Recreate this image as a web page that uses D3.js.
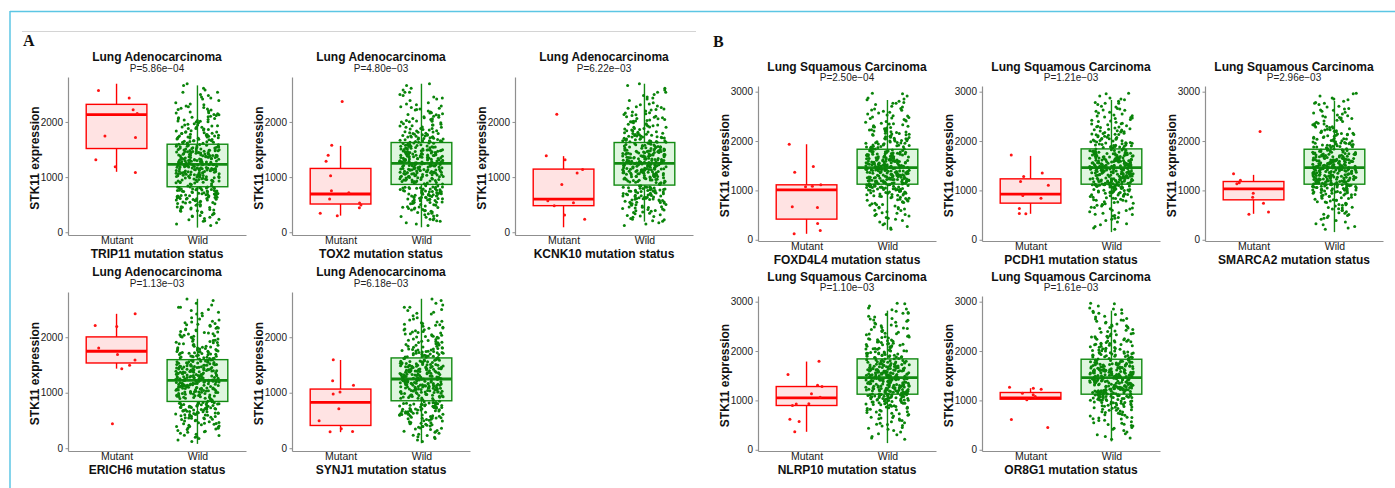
<!DOCTYPE html>
<html>
<head>
<meta charset="utf-8">
<title>STK11 expression by mutation status</title>
<style>
  body { margin: 0; background: #fff; }
  svg { display: block; font-family: "Liberation Sans", Arial, sans-serif; }
</style>
</head>
<body>
<svg id="canvas" width="1395" height="488"></svg>
<script src="https://d3js.org/d3.v7.min.js"></script>
<script>
// ---- data ----
const cancers = ["Lung Adenocarcinoma", "Lung Squamous Carcinoma"];
const panelLetters = ["A", "B"];
const groups = ["Mutant", "Wild"];
const genes = ["TRIP11", "TOX2", "KCNK10", "ERICH6", "SYNJ1", "FOXD4L4", "PCDH1", "SMARCA2", "NLRP10", "OR8G1"];
const pvals = ["5.86e-04", "4.80e-03", "6.22e-03", "1.13e-03", "6.18e-03", "2.50e-04", "1.21e-03", "2.96e-03", "1.10e-03", "1.61e-03"];
const cancerOf = [0, 0, 0, 0, 0, 1, 1, 1, 1, 1];
const yTicks = [[0, 1000, 2000], [0, 1000, 2000, 3000]];

const mutantValues = [
  [2572, 2434, 2223, 2151, 1747, 1717, 1313, 1187, 1084],
  [2373, 1578, 1398, 1289, 1024, 753, 717, 602, 530, 494, 446, 343, 301],
  [2139, 1386, 1313, 1139, 1072, 867, 572, 536, 482, 313, 235],
  [2422, 2211, 2193, 1807, 1687, 1590, 1494, 1434, 440],
  [1596, 1217, 1133, 1012, 976, 711, 494, 349, 301, 295],
  [1935, 1483, 1369, 1113, 1086, 1072, 667, 655, 330, 189, 121],
  [1719, 1355, 1281, 1180, 1106, 897, 843, 634, 533, 526],
  [2192, 1335, 1207, 1153, 1133, 944, 863, 742, 560, 519],
  [1794, 1524, 1308, 1281, 1133, 1065, 931, 925, 897, 620, 573, 364],
  [1268, 1247, 1227, 1146, 1113, 1079, 1011, 614, 452]
];

// [lower whisker, Q1, median, Q3, upper whisker]
const mutantBox = [
  [1096, 1518, 2133, 2319, 2693],
  [301, 512, 693, 1157, 1566],
  [90, 482, 602, 1145, 1380],
  [1434, 1536, 1747, 2006, 2422],
  [289, 410, 825, 1066, 1590],
  [121, 418, 1011, 1113, 1935],
  [526, 742, 924, 1234, 1699],
  [526, 809, 1032, 1180, 1315],
  [364, 897, 1052, 1281, 1787],
  [1011, 1025, 1052, 1160, 1247]
];
const wildBox = [
  [84, 825, 1229, 1596, 2663],
  [90, 867, 1247, 1627, 2693],
  [193, 855, 1247, 1627, 2693],
  [78, 843, 1223, 1596, 2693],
  [90, 855, 1247, 1627, 2693],
  [202, 1126, 1463, 1834, 2832],
  [155, 1126, 1463, 1841, 2832],
  [155, 1126, 1463, 1834, 2812],
  [135, 1126, 1463, 1841, 2818],
  [169, 1126, 1463, 1834, 2818]
];

const wildLUAD = [
  1342, 612, 2105, 977, 1488, 305, 1760, 1102, 845, 1391, 2480, 715, 1187, 1540, 430, 1925, 1033, 1275, 688, 1650,
  2233, 902, 1466, 540, 1812, 1150, 1318, 790, 2016, 1059, 1573, 198, 1699, 866, 1422, 625, 2388, 1211, 1367, 755,
  1254, 478, 1881, 1006, 1509, 820, 2611, 1134, 1298, 359, 1721, 948, 1583, 662, 2149, 1090, 1402, 574, 1967, 1229,
  1445, 747, 1630, 880, 2310, 1173, 1356, 251, 1789, 1017, 1527, 690, 2062, 1118, 1283, 803, 1608, 961, 1476, 402,
  1312, 733, 1746, 1061, 1453, 522, 2197, 1195, 1378, 150, 1862, 919, 1561, 641, 2540, 1079, 1329, 776, 1688, 1240,
  1497, 463, 2003, 1146, 1265, 595, 1733, 988, 1414, 812, 2275, 1108, 1550, 337, 1908, 1039, 1301, 705, 1620, 1167,
  1387, 650, 1795, 930, 1519, 286, 2086, 1222, 1334, 771, 1668, 1013, 1432, 548, 2432, 1157, 1260, 837, 1943, 1071,
  1590, 412, 1710, 955, 1349, 694, 2162, 1125, 1471, 228, 1839, 1048, 1289, 758, 2580, 1199, 1415, 613, 1657, 899,
  1236, 583, 1823, 1027, 1532, 380, 2249, 1181, 1363, 728, 1641, 894, 1459, 505, 2044, 1094, 1306, 672, 1779, 1144,
  1566, 815, 2350, 1007, 1398, 447, 1902, 1213, 1247, 630, 1705, 972, 1510, 272, 2119, 1086, 1327, 786, 2660, 1160,
  1441, 699, 1768, 984, 1293, 543, 1987, 1127, 1374, 120, 2216, 1052, 1594, 740, 1676, 913, 1426, 606, 2498, 1207,
  1270, 798, 1854, 1066, 1502, 391, 2135, 1139, 1339, 667, 1741, 937, 1481, 489, 2025, 1178, 1320, 822, 1615, 1003,
  1358, 560, 1905, 1044, 1493, 710, 2290, 1115, 1250, 318, 1727, 966, 1556, 636, 2074, 1192, 1405, 762, 1659, 1081,
  1463, 452, 1960, 1218, 1286, 680, 2417, 1023, 1537, 209, 1806, 1152, 1395, 749, 1692, 928, 1438, 597, 2180, 1131,
  1273, 808, 1745, 991, 1524, 423, 2095, 1166, 1346, 655, 1870, 1057, 1448, 530, 2540, 1101, 1310, 783, 1632, 874,
  1578, 345, 2011, 1204, 1261, 721, 1790, 1036, 1414, 497, 2226, 1141, 1369, 618, 1713, 946, 1487, 174, 1929, 1084,
  1325, 744, 1836, 1011, 1456, 570, 2166, 1223, 1281, 393, 1683, 958, 1546, 676, 2327, 1120, 1387, 815, 1752, 1069,
  1509, 459, 2058, 1185, 1244, 633, 1883, 986, 1432, 296, 2691, 1097, 1354, 702, 1618, 905, 1470, 544, 1998, 1158,
  1392, 601, 1772, 1041, 1585, 734, 2130, 1133, 1268, 365, 1818, 921, 1477, 518, 2451, 1208, 1300, 767, 1646, 1078,
  1420, 441, 1945, 1170, 1335, 659, 2262, 1015, 1559, 236, 1727, 1112, 1383, 792, 2037, 943, 1496, 583, 1661, 1227
];

const wildLUSC = [
  1488, 934, 2210, 1250, 1702, 512, 2650, 1381, 1555, 1047, 1920, 1180, 1623, 772, 2405, 1318, 1519, 1098, 2050, 1422,
  1760, 305, 2870, 1207, 1645, 988, 2133, 1349, 1590, 860, 1982, 1276, 1731, 655, 2512, 1405, 1474, 1119, 1877, 1158,
  1537, 1008, 2312, 1293, 1681, 437, 2740, 1432, 1499, 905, 2088, 1221, 1779, 1071, 1943, 1366, 1612, 820, 2568, 1147,
  1721, 1033, 2181, 1452, 1568, 592, 1866, 1305, 1658, 960, 2960, 1189, 1802, 1112, 2023, 1337, 1503, 714, 2276, 1266,
  1610, 1085, 2002, 1241, 1747, 239, 2455, 1395, 1529, 944, 2159, 1167, 1694, 840, 2780, 1328, 1586, 1057, 1904, 1446,
  1813, 627, 2351, 1212, 1553, 1125, 2070, 1289, 1677, 880, 2603, 1373, 1487, 1019, 1955, 1198, 1789, 491, 2241, 1417,
  1571, 970, 2117, 1259, 1715, 756, 2835, 1409, 1482, 1091, 1890, 1137, 1639, 388, 2292, 1351, 1600, 1040, 2041, 1229,
  1826, 901, 2487, 1391, 1512, 1132, 1972, 1312, 1748, 683, 2690, 1175, 1627, 996, 2198, 1440, 1544, 812, 1850, 1280,
  1468, 1064, 2265, 1202, 1689, 548, 2530, 1359, 1596, 925, 2004, 1254, 1771, 1102, 2382, 1423, 1520, 741, 1938, 1150,
  1659, 270, 2911, 1300, 1577, 1010, 2141, 1385, 1733, 867, 2047, 1218, 1616, 1125, 2436, 1336, 1494, 622, 1869, 1190,
  1603, 1029, 2172, 1272, 1794, 453, 2764, 1437, 1505, 958, 1913, 1160, 1668, 798, 2330, 1324, 1561, 1073, 2095, 1401,
  1740, 570, 2585, 1235, 1620, 1115, 1987, 1294, 1706, 912, 2227, 1363, 1479, 700, 2630, 1183, 1648, 1052, 1894, 1448,
  1532, 879, 2036, 1224, 1768, 362, 2475, 1377, 1584, 1094, 2125, 1263, 1653, 646, 2853, 1411, 1497, 1002, 1956, 1169,
  1817, 785, 2300, 1341, 1545, 1121, 2077, 1219, 1697, 517, 2548, 1318, 1607, 942, 1885, 1456, 1728, 1068, 2360, 1196,
  1594, 1016, 2248, 1287, 1710, 600, 2705, 1428, 1466, 851, 1930, 1143, 1784, 1083, 2152, 1370, 1526, 214, 2421, 1246,
  1675, 976, 1999, 1398, 1631, 729, 2966, 1172, 1550, 1107, 2108, 1332, 1755, 890, 2283, 1209, 1519, 1041, 1846, 1453,
  1489, 951, 2190, 1238, 1736, 415, 2622, 1389, 1573, 1098, 1966, 1264, 1664, 763, 2397, 1313, 1615, 1025, 2059, 1185,
  1798, 661, 2805, 1356, 1508, 1130, 1921, 1302, 1690, 837, 2225, 1414, 1562, 986, 2509, 1157, 1742, 538, 1878, 1230,
  1557, 1061, 2140, 1268, 1774, 710, 2345, 1443, 1483, 917, 2013, 1195, 1717, 1117, 2659, 1347, 1598, 480, 1909, 1250,
  1639, 1001, 2203, 1379, 1535, 803, 2768, 1222, 1683, 1079, 1960, 1394, 1806, 326, 2466, 1306, 1626, 968, 1838, 1431
];
const wildValues = [wildLUAD, wildLUSC];

// ---- layout ----
const layout = [
  { cols: [68, 292, 515], tops: [77, 292], bottoms: [235, 451], yDomain: [-50, 2815], titleGap: 16 },
  { cols: [758, 982, 1205], tops: [86, 296], bottoms: [241, 451], yDomain: [-25, 3115], titleGap: 15.3 }
];
const plotW = 178;
const colors = {
  mutant: { line: "#ff0000", fill: "#ffe3e3", point: "#ff1414" },
  wild: { line: "#128a12", fill: "#dff6df", point: "#0a840a" }
};
const axisColor = "#8f8f8f";

// deterministic jitter in [-1, 1]
const jit = (i, s) => { const t = Math.sin(i * 127.1 + s * 311.7) * 43758.5453; return (t - Math.floor(t)) * 2 - 1; };

const svg = d3.select("#canvas");

// frame
svg.append("line").attr("x1", 10).attr("x2", 1395).attr("y1", 11.5).attr("y2", 11.5)
  .attr("stroke", "#5cc6e4").attr("stroke-width", 1.5);
svg.append("line").attr("x1", 10).attr("x2", 10).attr("y1", 11).attr("y2", 488)
  .attr("stroke", "#5cc6e4").attr("stroke-width", 1.5);
svg.append("line").attr("x1", 22).attr("x2", 696).attr("y1", 31.5).attr("y2", 31.5)
  .attr("stroke", "#d4d4d4").attr("stroke-width", 1);

svg.selectAll("text.letter").data(panelLetters).enter().append("text")
  .attr("class", "letter")
  .attr("x", (d, i) => i ? 713 : 23)
  .attr("y", (d, i) => i ? 46.5 : 45.5)
  .style("font-family", "'Liberation Serif', 'Times New Roman', serif")
  .style("font-weight", "bold").style("font-size", "16px").attr("fill", "#111")
  .text(d => d);

const drawBox = (p, x, y, stats, cx, c) => {
  const [lo, q1, med, q3, hi] = stats, hw = 0.375;
  p.append("line").attr("x1", x(cx)).attr("x2", x(cx)).attr("y1", y(hi)).attr("y2", y(q3))
    .attr("stroke", c.line).attr("stroke-width", 1.4);
  p.append("line").attr("x1", x(cx)).attr("x2", x(cx)).attr("y1", y(q1)).attr("y2", y(lo))
    .attr("stroke", c.line).attr("stroke-width", 1.4);
  p.append("rect").attr("x", x(cx - hw)).attr("y", y(q3))
    .attr("width", x(cx + hw) - x(cx - hw)).attr("height", y(q1) - y(q3))
    .attr("fill", c.fill).attr("stroke", c.line).attr("stroke-width", 1.4);
  p.append("line").attr("x1", x(cx - hw)).attr("x2", x(cx + hw)).attr("y1", y(med)).attr("y2", y(med))
    .attr("stroke", c.line).attr("stroke-width", 2.8);
};

const drawPoints = (p, x, y, values, cx, c, seed) => {
  p.append("g").selectAll("circle").data(values).enter().append("circle")
    .attr("cx", (d, i) => x(cx + 0.27 * jit(i, seed)))
    .attr("cy", d => y(d))
    .attr("r", 1.5)
    .attr("fill", c.point);
};

genes.forEach((gene, i) => {
  const g = cancerOf[i], k = i - 5 * g, row = Math.floor(k / 3), col = k % 3;
  const L = layout[g];
  const left = L.cols[col], top = L.tops[row], bottom = L.bottoms[row];
  const x = d3.scaleLinear().domain([0.4, 2.6]).range([left, left + plotW]);
  const y = d3.scaleLinear().domain(L.yDomain).range([bottom, top]);
  const p = svg.append("g");

  const ya = p.append("g").attr("transform", "translate(" + left + ",0)")
    .call(d3.axisLeft(y).tickValues(yTicks[g]).tickFormat(d3.format("d"))
      .tickSize(2.5).tickSizeOuter(0).tickPadding(2.5));
  const xa = p.append("g").attr("transform", "translate(0," + bottom + ")")
    .call(d3.axisBottom(x).tickValues([1, 2]).tickFormat(d => groups[d - 1]).tickSize(0).tickSizeOuter(0).tickPadding(1.5));
  [ya, xa].forEach(a => {
    a.select(".domain").attr("stroke", axisColor).attr("stroke-width", 1.2);
    a.selectAll(".tick line").attr("stroke", axisColor);
    a.selectAll(".tick text").attr("fill", "#1a1a1a").style("font-family", "'Liberation Sans', Arial, sans-serif");
  });
  ya.selectAll(".tick text").style("font-size", "10px");
  xa.selectAll(".tick text").style("font-size", "10.5px");

  drawBox(p, x, y, mutantBox[i], 1, colors.mutant);
  drawBox(p, x, y, wildBox[i], 2, colors.wild);
  drawPoints(p, x, y, wildValues[g], 2, colors.wild, i + 1);
  drawPoints(p, x, y, mutantValues[i], 1, colors.mutant, i + 21);

  const cxm = left + plotW / 2;
  p.append("text").attr("x", cxm).attr("y", top - L.titleGap).attr("text-anchor", "middle")
    .style("font-weight", "bold").style("font-size", "12px").attr("fill", "#111").text(cancers[g]);
  p.append("text").attr("x", cxm).attr("y", top - 5).attr("text-anchor", "middle")
    .style("font-size", "10px").attr("fill", "#222").text("P=" + pvals[i].replace("-", "\u2212"));
  p.append("text").attr("x", cxm).attr("y", bottom + 22.7).attr("text-anchor", "middle")
    .style("font-weight", "bold").style("font-size", "12px").attr("fill", "#111").text(gene + " mutation status");
  p.append("text")
    .attr("transform", "translate(" + (left - 29.5) + "," + ((top + bottom) / 2 + 2) + ") rotate(-90)")
    .attr("text-anchor", "middle")
    .style("font-weight", "bold").style("font-size", "12px").attr("fill", "#111").text("STK11 expression");
});
</script>
</body>
</html>
